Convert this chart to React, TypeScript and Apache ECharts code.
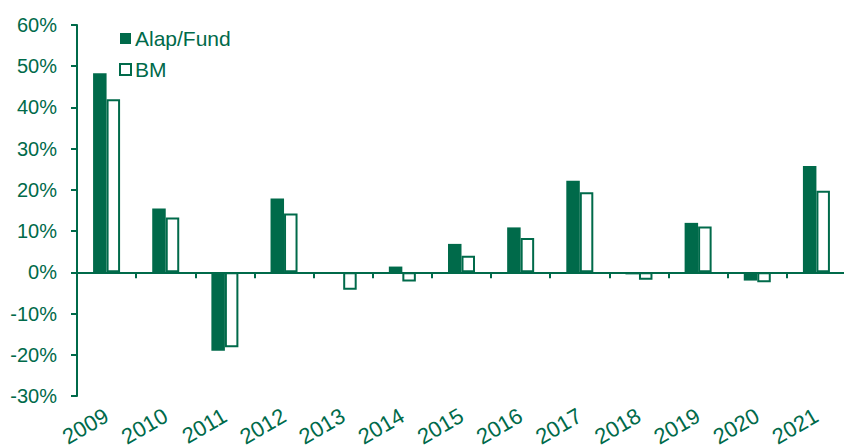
import React, { useEffect, useRef } from "react";
import * as echarts from "echarts";

const years = ["2009", "2010", "2011", "2012", "2013", "2014", "2015", "2016", "2017", "2018", "2019", "2020", "2021"];
const fundValues = [48.3, 15.5, -19.0, 17.9, -0.2, 1.4, 6.9, 10.9, 22.2, -0.5, 12.0, -2.0, 25.8];
const bmValues = [42.0, 13.3, -18.2, 14.3, -4.2, -2.2, 4.0, 8.3, 19.4, -1.8, 11.1, -2.4, 19.8];
const seriesNames = ["Alap/Fund", "BM"];

const GREEN = "#006A4A";
const FONT = "Liberation Sans, Arial, sans-serif";

export default function App() {
  const ref = useRef<HTMLDivElement>(null);
  useEffect(() => {
    if (!ref.current) return;
    const chart = echarts.init(ref.current, null, { renderer: "svg" });
    chart.setOption({
      animation: false,
      backgroundColor: "#ffffff",
      textStyle: { fontFamily: FONT },
      legend: {
        orient: "vertical",
        left: 114,
        top: 23,
        itemWidth: 11,
        itemHeight: 11,
        itemGap: 10,
        icon: "rect",
        textStyle: { color: GREEN, fontSize: 21, fontFamily: FONT, padding: [0, 0, 0, -1] },
        data: seriesNames,
      },
      grid: { left: 77, top: 25, width: 769, bottom: 52, containLabel: false, outerBoundsMode: "none" },
      xAxis: {
        type: "category",
        data: years,
        boundaryGap: true,
        axisLine: { onZero: true, lineStyle: { color: GREEN, width: 2 } },
        axisTick: { show: true, length: 6, alignWithLabel: false, lineStyle: { color: GREEN, width: 2 } },
        axisLabel: {
          interval: 0,
          rotate: 30,
          margin: 18,
          color: GREEN,
          fontSize: 22,
          fontFamily: FONT,
        },
        splitLine: { show: false },
      },
      yAxis: {
        type: "value",
        min: -30,
        max: 60,
        interval: 10,
        axisLine: { show: true, lineStyle: { color: GREEN, width: 2 } },
        axisTick: { show: true, length: 6, lineStyle: { color: GREEN, width: 2 } },
        axisLabel: { formatter: "{value}%", color: GREEN, fontSize: 20, fontFamily: FONT, margin: 20 },
        splitLine: { show: false },
      },
      series: [
        {
          name: seriesNames[0],
          type: "bar",
          data: fundValues,
          barWidth: 13.5,
          barGap: "0%",
          itemStyle: { color: GREEN },
        },
        {
          name: seriesNames[1],
          type: "bar",
          data: bmValues,
          barWidth: 13.5,
          barGap: "0%",
          itemStyle: { color: "#ffffff", borderColor: GREEN, borderWidth: 2 },
        },
      ],
    });
    return () => chart.dispose();
  }, []);
  return (
    <div
      ref={ref}
      style={{ position: "absolute", left: 0, top: 0, width: 844, height: 448, background: "#fff" }}
    />
  );
}
